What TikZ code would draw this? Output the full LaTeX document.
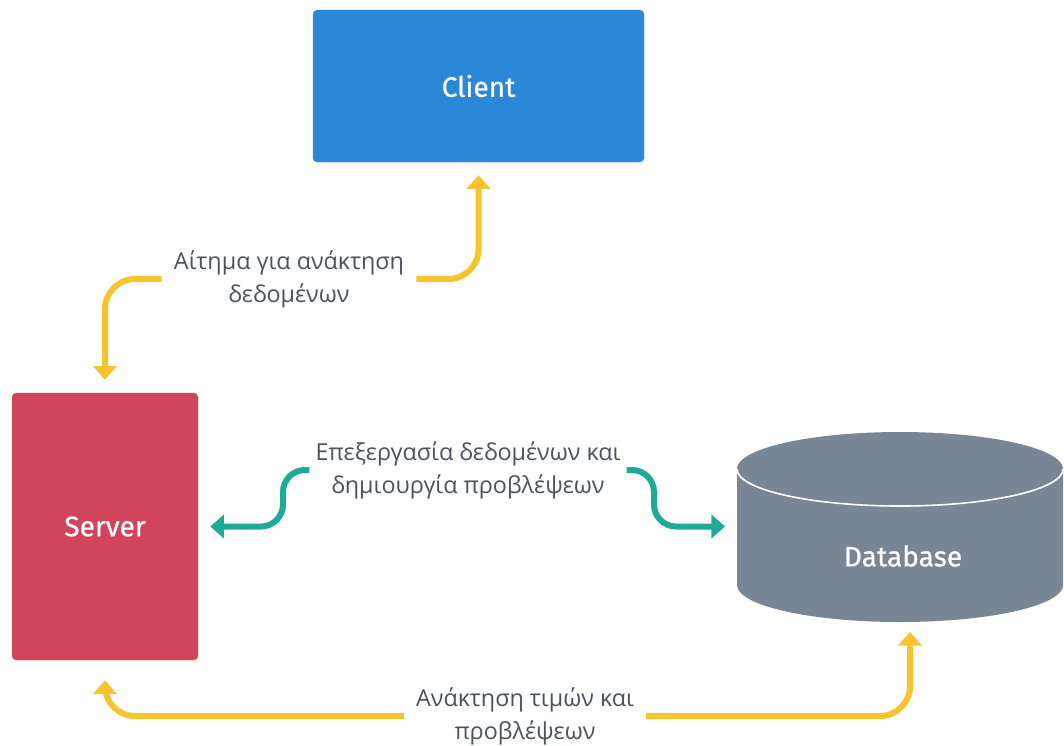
\documentclass[tikz,border=0pt]{standalone}
\usepackage{fontspec}
\setmainfont{Open Sans}
\newfontfamily\titlefont{Fira Sans}[FakeBold=0.7]
\usetikzlibrary{arrows.meta,shadows}

\definecolor{clientblue}{RGB}{43,136,216}
\definecolor{serverred}{RGB}{208,69,90}
\definecolor{dbgray}{RGB}{120,134,149}
\definecolor{flowyellow}{RGB}{247,196,48}
\definecolor{flowteal}{RGB}{30,170,150}
\definecolor{labelgray}{RGB}{74,84,94}

\tikzset{
	tier/.style={rounded corners=0.1cm, inner sep=0, text=white,
		font=\titlefont\fontsize{20}{24}\selectfont,
		drop shadow={opacity=0.12, shadow xshift=0.03cm, shadow yshift=-0.06cm}},
	flowlabel/.style={align=center, text=labelgray, inner xsep=0.3cm,
		font=\fontsize{16.6}{23.5}\selectfont},
	flow/.style={line width=0.15cm, rounded corners=0.75cm,
		-{Triangle[width=0.58cm,length=0.34cm]}},
	yflow/.style={flow, draw=flowyellow},
	tflow/.style={flow, draw=flowteal, rounded corners=0.55cm}
}

\begin{document}
\begin{tikzpicture}[x=0.025cm, y=-0.025cm]
			%%%%% START %%%%%
			\useasboundingbox (0, 0) rectangle (1064, 745);
			
			\node[tier, fill=clientblue, minimum width=8.275cm, minimum height=3.8cm] (client) at (478.5, 86) {Client};
			\node[tier, fill=serverred, minimum width=4.65cm, minimum height=6.675cm] (server) at (105, 526.5) {Server};
			
			% database drum
			\fill[dbgray] (737, 469) -- (737, 585) arc[start angle=180, end angle=360, x radius=4.075cm, y radius=0.925cm]
				-- (1063, 469) arc[start angle=0, end angle=180, x radius=4.075cm, y radius=0.925cm] -- cycle;
			\draw[white, line width=0.04cm] (737, 469) arc[start angle=180, end angle=360, x radius=4.075cm, y radius=0.925cm];
			\node[text=white, font=\titlefont\fontsize{20}{24}\selectfont] (db) at (903, 556) {Database};
			\coordinate (dbside) at (725, 526.5);
			\coordinate (dbfoot) at (910, 632);
			
			\node[flowlabel] (request) at (289, 279) {Αίτημα για ανάκτηση\\δεδομένων};
			\node[flowlabel, inner xsep=0.15cm] (process) at (468, 470) {Επεξεργασία δεδομένων και\\δημιουργία προβλέψεων};
			\node[flowlabel] (fetch) at (525, 716) {Ανάκτηση τιμών και\\προβλέψεων};
			
			\draw[yflow] (request.east) -| ([yshift=-0.325cm]client.south);
			\draw[yflow] (request.west) -| ([yshift=0.325cm]server.north);
			
			\draw[tflow] (process.west) -| (283, 526.5) -- ([xshift=0.3cm]server.east);
			\draw[tflow] (process.east) -| (654, 526.5) -- (dbside);
			
			\draw[yflow] (fetch.west) -| ([yshift=-0.5cm]server.south);
			\draw[yflow] (fetch.east) -| (dbfoot);
			
			%%%%% END %%%%%
\end{tikzpicture}
\end{document}
